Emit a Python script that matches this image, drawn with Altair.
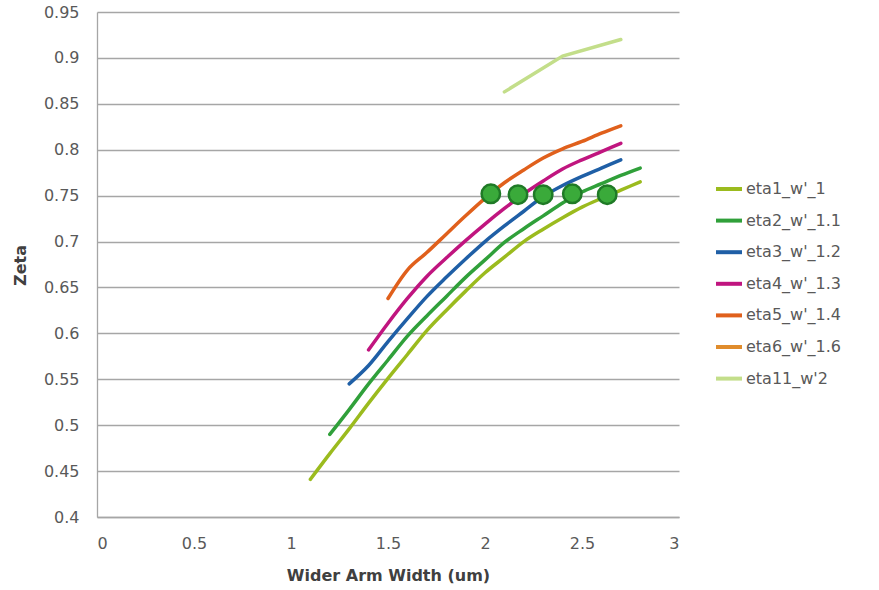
import altair as alt
import pandas as pd

# Series names, colours and the (width, zeta) samples of each curve
names = ["eta1_w'_1", "eta2_w'_1.1", "eta3_w'_1.2", "eta4_w'_1.3",
         "eta5_w'_1.4", "eta6_w'_1.6", "eta11_w'2"]
colors = ["#9bbb1e", "#30a03a", "#1f5fa6", "#c0157f",
          "#e0601c", "#e08c2c", "#c3de8a"]

x_eta1 = [1.1, 1.2, 1.3, 1.4, 1.5, 1.6, 1.7, 1.8, 1.9, 2.0, 2.1, 2.2, 2.3, 2.4, 2.5, 2.6, 2.7, 2.8]
y_eta1 = [0.441, 0.469, 0.496, 0.524, 0.551, 0.577, 0.603, 0.625, 0.646, 0.666, 0.683, 0.700,
          0.7135, 0.726, 0.7375, 0.747, 0.756, 0.765]

x_eta2 = [1.2, 1.3, 1.4, 1.5, 1.6, 1.7, 1.8, 1.9, 2.0, 2.1, 2.2, 2.3, 2.4, 2.5, 2.6, 2.7, 2.8]
y_eta2 = [0.490, 0.517, 0.545, 0.571, 0.597, 0.619, 0.640, 0.661, 0.680, 0.699, 0.714, 0.728,
          0.742, 0.754, 0.763, 0.772, 0.780]

x_eta3 = [1.3, 1.4, 1.5, 1.6, 1.7, 1.8, 1.9, 2.0, 2.1, 2.2, 2.3, 2.4, 2.5, 2.6, 2.7]
y_eta3 = [0.545, 0.565, 0.591, 0.616, 0.640, 0.661, 0.681, 0.700, 0.717, 0.733, 0.749, 0.761,
          0.771, 0.780, 0.789]

x_eta4 = [1.4, 1.5, 1.6, 1.7, 1.8, 1.9, 2.0, 2.1, 2.2, 2.3, 2.4, 2.5, 2.6, 2.7]
y_eta4 = [0.582, 0.611, 0.638, 0.662, 0.682, 0.701, 0.719, 0.736, 0.752, 0.766, 0.779, 0.789,
          0.798, 0.807]

x_eta5 = [1.5, 1.6, 1.7, 1.8, 1.9, 2.0, 2.1, 2.2, 2.3, 2.4, 2.5, 2.6, 2.7]
y_eta5 = [0.638, 0.669, 0.688, 0.708, 0.728, 0.747, 0.764, 0.778, 0.791, 0.801, 0.809, 0.818, 0.826]

x_eta11 = [2.1, 2.4, 2.7]
y_eta11 = [0.863, 0.902, 0.920]

# Operating points where each curve reaches zeta = 0.75
x_mark = [2.03, 2.17, 2.30, 2.45, 2.63]
y_mark = [0.752, 0.751, 0.751, 0.752, 0.751]

x_ticks = [0, 0.5, 1, 1.5, 2, 2.5, 3]
y_ticks = [0.4, 0.45, 0.5, 0.55, 0.6, 0.65, 0.7, 0.75, 0.8, 0.85, 0.9, 0.95]

smooth_series = [
    (names[0], x_eta1, y_eta1),
    (names[1], x_eta2, y_eta2),
    (names[2], x_eta3, y_eta3),
    (names[3], x_eta4, y_eta4),
    (names[4], x_eta5, y_eta5),
]
rows = []
for order, (name, xs, ys) in enumerate(smooth_series):
    for x, y in zip(xs, ys):
        rows.append({"series": name, "order": order, "width": x, "zeta": y})
curves = pd.DataFrame(rows)
top = pd.DataFrame({"series": names[6], "width": x_eta11, "zeta": y_eta11})
marks = pd.DataFrame({"width": x_mark, "zeta": y_mark})

FONT = "DejaVu Sans"

x_enc = alt.X(
    "width:Q",
    scale=alt.Scale(domain=[0, 3], nice=False, zero=False),
    axis=alt.Axis(
        values=x_ticks, format="~g", grid=False, ticks=False, tickSize=0,
        labelPadding=18, title="Wider Arm Width (um)",
        titleX=291, titleY=58, titleBaseline="middle", titleAlign="center",
    ),
)
y_enc = alt.Y(
    "zeta:Q",
    scale=alt.Scale(domain=[0.4, 0.95], nice=False, zero=False),
    axis=alt.Axis(
        values=y_ticks, format=".2~f", grid=True, ticks=False, tickSize=0,
        labelPadding=18, title="Zeta",
        titleX=-77, titleY=253, titleAngle=-90, titleBaseline="middle", titleAlign="center",
    ),
)
color_enc = alt.Color(
    "series:N",
    scale=alt.Scale(domain=names, range=colors),
    legend=alt.Legend(
        title=None, orient="none", legendX=617, legendY=162,
        symbolType="stroke", symbolStrokeWidth=4, symbolSize=676,
        labelFontSize=16, labelColor="#595959", labelFont=FONT,
        labelOffset=2, rowPadding=8.6, padding=0,
    ),
)

lines = alt.Chart(curves).mark_line(
    strokeWidth=3.5, interpolate="monotone", strokeCap="round"
).encode(x=x_enc, y=y_enc, color=color_enc, detail="series:N", order="width:Q")

top_line = alt.Chart(top).mark_line(
    strokeWidth=3.5, strokeCap="round"
).encode(x=x_enc, y=y_enc, color=color_enc)

points = alt.Chart(marks).mark_circle(
    size=340, color="#3aaa3a", stroke="#1f7a26", strokeWidth=2.5, opacity=1
).encode(x=x_enc, y=y_enc)

chart = (
    alt.layer(lines, top_line, points)
    .properties(
        width=582, height=505,
        autosize=alt.AutoSizeParams(type="none"),
        padding={"left": 97, "top": 12, "right": 200, "bottom": 73},
        background="white",
    )
    .configure_view(stroke=None)
    .configure_axis(
        labelFont=FONT, labelFontSize=16, labelColor="#595959",
        titleFont=FONT, titleFontSize=16, titleFontWeight="bold", titleColor="#404040",
        domainColor="#a6a6a6", domainWidth=1.3,
        gridColor="#a6a6a6", gridWidth=1.3,
    )
)

chart.save("out.html", embed_options={"renderer": "svg", "actions": False})
